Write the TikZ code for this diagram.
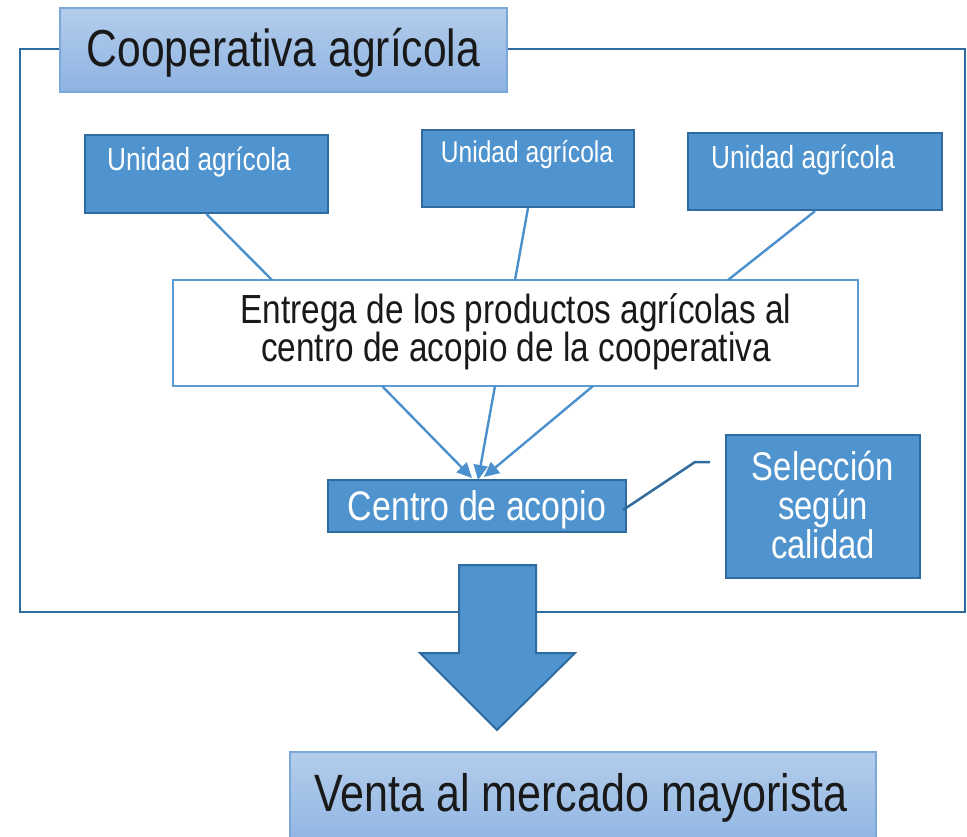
\documentclass[tikz,border=0pt]{standalone}
\usepackage{fontspec}
\setmainfont{Liberation Sans}[FakeStretch=0.82]
\usetikzlibrary{arrows.meta,calc}
\definecolor{bfill}{HTML}{4F94CF}
\definecolor{bdark}{HTML}{2F6B9E}
\definecolor{bline}{HTML}{4A90CD}
\definecolor{eline}{HTML}{5B9BD5}
\definecolor{gtop}{HTML}{B4CDEB}
\definecolor{gbot}{HTML}{8DB3E2}
\definecolor{gborder}{HTML}{7BA7D9}
\newcommand\px{0.75pt}
\tikzset{
  bluebox/.style={draw=bdark, line width=2.2*\px, fill=bfill, inner sep=0pt},
  lightbox/.style={draw=gborder, line width=1.5*\px, top color=gtop, bottom color=gbot, inner sep=0pt},
  whitetxt/.style={text=white, inner sep=0pt, align=center},
  linkline/.style={draw=bline, line width=2.4*\px},
  convarrow/.style={draw=bline, line width=2.4*\px, -{Triangle[length=15*\px, width=14*\px]}},
}
\begin{document}
\begin{tikzpicture}[x=0.75pt, y=-0.75pt]
\useasboundingbox (0,0) rectangle (967,836);
\clip (0,0) rectangle (967,836);
% outer frame
\draw[draw=bdark, line width=2.4*\px] (20,49) rectangle (965,612);
% title
\node[lightbox, minimum width=447*\px, minimum height=84*\px] (title) at (283.5,50) {};
\node[inner sep=0pt, text=black!90, font=\fontsize{39}{44}\selectfont] (titletxt) at (283.5,53) {Cooperativa agrícola};
% unit boxes
\node[bluebox, minimum width=243*\px, minimum height=78*\px] (u1) at (206.5,174) {};
\node[whitetxt, font=\fontsize{24}{28}\selectfont] (u1t) at (199,162) {Unidad agrícola};
\node[bluebox, minimum width=212*\px, minimum height=77*\px] (u2) at (528,168.5) {};
\node[whitetxt, font=\fontsize{22.5}{26}\selectfont] (u2t) at (527,155) {Unidad agrícola};
\node[bluebox, minimum width=254*\px, minimum height=77*\px] (u3) at (815,171.5) {};
\node[whitetxt, font=\fontsize{24}{28}\selectfont] (u3t) at (803,160) {Unidad agrícola};
% entrega box
\node[draw=eline, line width=2*\px, fill=white, minimum width=685*\px, minimum height=106*\px, inner sep=0pt] (entrega) at (515.5,333) {};
\node[inner sep=0pt, align=center, text=black!90, font=\fontsize{30.5}{28.5}\selectfont] (entregat) at (516,332) {Entrega de los productos agrícolas al\\ centro de acopio de la cooperativa};
% connection points on entrega box
\coordinate (e1) at (272,280);
\coordinate (e2) at (515,280);
\coordinate (e3) at (728,280);
\coordinate (b1) at (382,386);
\coordinate (b2) at (495,386);
\coordinate (b3) at (593,386);
\draw[linkline] (u1.south) -- (e1);
\draw[linkline] (u2.south) -- (e2);
\draw[linkline] (u3.south) -- (e3);
% centro
\node[bluebox, minimum width=298*\px, minimum height=52*\px] (centro) at (477,506) {};
\node[whitetxt, font=\fontsize{31}{34}\selectfont] (centrot) at (477,510) {Centro de acopio};
\coordinate (t1) at (472,478);
\coordinate (t2) at (478,480);
\coordinate (t3) at (484,477);
\draw[convarrow] (b1) -- (t1);
\draw[convarrow] (b2) -- (t2);
\draw[convarrow] (b3) -- (t3);
% seleccion
\node[bluebox, minimum width=194*\px, minimum height=143*\px] (selec) at (823,506.5) {};
\node[whitetxt, font=\fontsize{30}{29}\selectfont] (select) at (823,505) {Selección\\ según\\ calidad};
\coordinate (k1) at (695,462);
\coordinate (k2) at (710,462);
\draw[draw=bdark, line width=2.5*\px] ($(centro.east)+(-4,4)$) -- (k1) -- (k2);
% big arrow
\draw[draw=bdark, line width=2*\px, fill=bfill, line join=miter]
  (459,565) -- (536,565) -- (536,653) -- (575,653) -- (497,730) -- (420,653) -- (459,653) -- cycle;
% venta
\node[lightbox, minimum width=586*\px, minimum height=100*\px] (venta) at (583,802) {};
\node[inner sep=0pt, text=black!90, font=\fontsize{39.4}{44}\selectfont] (ventat) at (581,798) {Venta al mercado mayorista};
\end{tikzpicture}
\end{document}
